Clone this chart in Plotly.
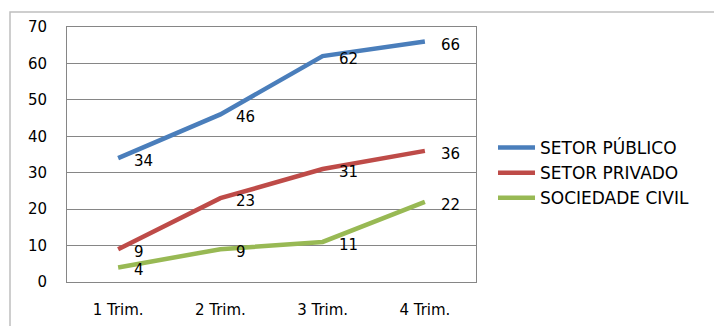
import plotly.graph_objects as go

categories = ["1 Trim.", "2 Trim.", "3 Trim.", "4 Trim."]
series_names = ["SETOR PÚBLICO", "SETOR PRIVADO", "SOCIEDADE CIVIL"]
setor_publico = [34, 46, 62, 66]
setor_privado = [9, 23, 31, 36]
sociedade_civil = [4, 9, 11, 22]
colors = ["#4A7EBB", "#BE4B48", "#98B954"]

W, H = 714, 326
L, R, T, B = 67, 476, 27, 282
FONT = "DejaVu Sans, Verdana, sans-serif"

fig = go.Figure()
annotations = []
for name, vals, col in zip(series_names, [setor_publico, setor_privado, sociedade_civil], colors):
    fig.add_trace(go.Scatter(
        x=categories, y=vals, name=name, mode="lines",
        line=dict(color=col, width=4.5), cliponaxis=False,
    ))
    for c, v in zip(categories, vals):
        annotations.append(dict(
            x=c, y=v, xref="x", yref="y", text=str(v), showarrow=False,
            xanchor="left", yanchor="middle", xshift=14, yshift=-3,
            font=dict(family=FONT, size=15, color="#000000"),
        ))

def px_x(p):
    return (p - L) / (R - L)

def px_y(p):
    return (B - p) / (B - T)

fig.add_shape(type="rect", xref="paper", yref="paper",
              x0=px_x(10), x1=px_x(720), y0=px_y(340), y1=px_y(12),
              line=dict(color="#BFBFBF", width=1.5), fillcolor="rgba(0,0,0,0)", layer="below")

fig.update_layout(
    width=W, height=H,
    margin=dict(l=L, r=W - R, t=T, b=H - B, autoexpand=False),
    paper_bgcolor="white", plot_bgcolor="white",
    font=dict(family=FONT, size=15, color="#000000"),
    showlegend=True,
    annotations=annotations,
    legend=dict(xref="container", yref="container",
                x=493 / W, y=1 - 130 / H, xanchor="left", yanchor="top",
                font=dict(family=FONT, size=17), bgcolor="rgba(0,0,0,0)",
                itemwidth=37, tracegroupgap=0),
    xaxis=dict(range=[-0.5, 3.5], showgrid=False, showline=True, mirror=True,
               linecolor="#868686", linewidth=1, ticks="", ticklabelstandoff=14,
               tickfont=dict(size=15), fixedrange=True, automargin=False),
    yaxis=dict(range=[0, 70], dtick=10, showgrid=True, gridcolor="#868686", gridwidth=1,
               showline=True, mirror=True, linecolor="#868686", linewidth=1,
               zeroline=False, ticks="", ticklabelstandoff=16,
               tickfont=dict(size=15), fixedrange=True, automargin=False),
)

fig.write_html("out.html")
